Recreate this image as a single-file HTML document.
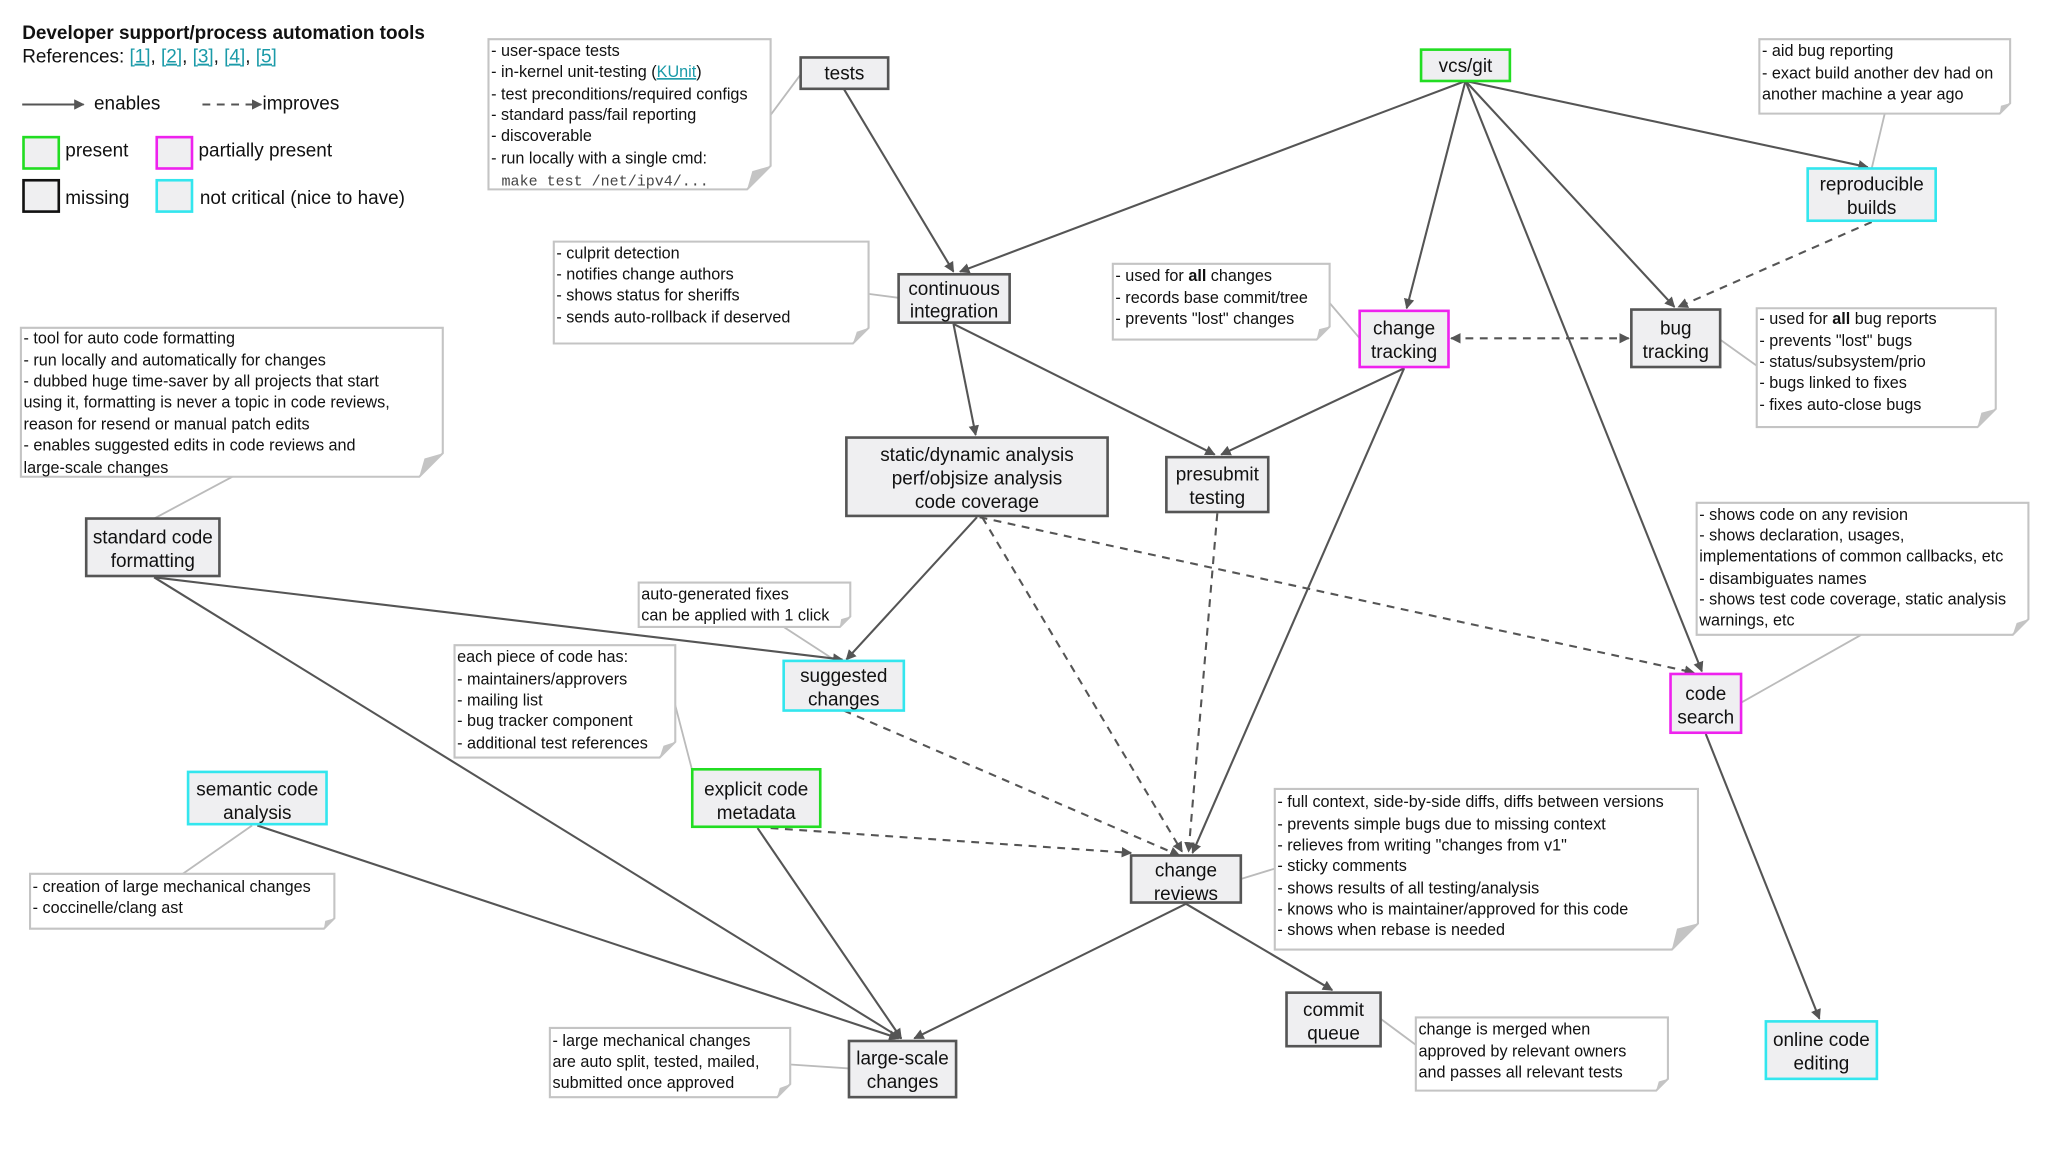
<!DOCTYPE html>
<html><head><meta charset="utf-8"><style>
html,body{margin:0;padding:0;background:#fff;}
svg{display:block;}
text{font-family:"Liberation Sans",Arial,sans-serif;fill:#111;}
.n{font-size:14.5px;text-anchor:middle;}
.t{font-size:12.4px;}
.mono{font-family:"Liberation Mono",monospace;font-size:11.5px;fill:#444;}
.lk{fill:#1a9aa8;text-decoration:underline;}
.nb{fill:#efeff1;stroke:#555;stroke-width:2;}
.g{stroke:#22dd22;} .m{stroke:#ee22ee;} .c{stroke:#33e6ee;}
.note{fill:#fff;stroke:#c4c4c4;stroke-width:1.6;}
.fold{fill:#c4c4c4;}
.e{stroke:#555;stroke-width:1.6;fill:none;}
.d{stroke:#555;stroke-width:1.6;fill:none;stroke-dasharray:6,5;}
.cn{stroke:#bbb;stroke-width:1.4;fill:none;}
</style></head><body>
<svg width="2048" height="1152" viewBox="0 0 1568 882" xmlns="http://www.w3.org/2000/svg">
<defs>
<marker id="a" viewBox="0 0 10 10" refX="9" refY="5" markerWidth="8" markerHeight="8" markerUnits="userSpaceOnUse" orient="auto-start-reverse"><path d="M0,0L10,5L0,10z" fill="#555"/></marker>
<marker id="ab" viewBox="0 0 10 10" refX="9" refY="5" markerWidth="10" markerHeight="10" markerUnits="userSpaceOnUse" orient="auto-start-reverse"><path d="M0,0L10,5L0,10z" fill="#555"/></marker>
</defs>
<rect width="1568" height="882" fill="#fff"/>

<!-- legend -->
<text x="17" y="30" style="font-size:14.5px;font-weight:bold">Developer support/process automation tools</text>
<text x="17" y="48" style="font-size:14.5px">References: <tspan class="lk">[1]</tspan>, <tspan class="lk">[2]</tspan>, <tspan class="lk">[3]</tspan>, <tspan class="lk">[4]</tspan>, <tspan class="lk">[5]</tspan></text>
<line x1="17" y1="80" x2="64" y2="80" class="e" marker-end="url(#a)"/>
<text x="72" y="84" style="font-size:14.5px">enables</text>
<line x1="155" y1="80" x2="200" y2="80" class="d" marker-end="url(#a)"/>
<text x="201" y="84" style="font-size:14.5px">improves</text>
<rect x="18" y="105" width="27" height="24" class="nb g"/><text x="50" y="120" style="font-size:14.5px">present</text>
<rect x="120" y="105" width="27" height="24" class="nb m"/><text x="152" y="120" style="font-size:14.5px">partially present</text>
<rect x="18" y="138" width="27" height="24" class="nb" style="stroke:#111"/><text x="50" y="156" style="font-size:14.5px">missing</text>
<rect x="120" y="138" width="27" height="24" class="nb c"/><text x="153" y="156" style="font-size:14.5px">not critical (nice to have)</text>

<!-- note connectors -->
<path class="cn" d="M590,88L613,57 M665,225L688,228 M178,365L118,397 M1018,232L1041,259 M1443,87L1433,129 M1345,280L1317,260 M600,480L640,506 M517,540L530,590 M1425,486L1333,538 M140,669L193,632 M976,665L950,673 M605,815L650,818 M1084,800L1057,780"/>

<!-- solid edges -->
<g class="e" marker-end="url(#a)">
<line x1="646" y1="68" x2="730" y2="208"/>
<line x1="1122" y1="62" x2="735" y2="208"/>
<line x1="1122" y1="62" x2="1077" y2="236"/>
<line x1="1122" y1="62" x2="1282" y2="235"/>
<line x1="1122" y1="62" x2="1430" y2="128"/>
<line x1="1122" y1="62" x2="1303" y2="514"/>
<line x1="730" y1="248" x2="747" y2="333"/>
<line x1="730" y1="248" x2="930" y2="348"/>
<line x1="1075" y1="282" x2="935" y2="348"/>
<line x1="1075" y1="282" x2="913" y2="653"/>
<line x1="748" y1="396" x2="648" y2="505"/>
<line x1="118" y1="442" x2="690" y2="795"/>
<line x1="118" y1="442" x2="645" y2="505"/>
<line x1="197" y1="632" x2="688" y2="795"/>
<line x1="580" y1="634" x2="690" y2="795"/>
<line x1="908" y1="692" x2="700" y2="795"/>
<line x1="908" y1="692" x2="1020" y2="758"/>
<line x1="1306" y1="562" x2="1393" y2="780"/>
</g>
<!-- dashed edges -->
<g class="d" marker-end="url(#a)">
<line x1="1433" y1="170" x2="1285" y2="235"/>
<line x1="1111" y1="259" x2="1247" y2="259" marker-start="url(#a)"/>
<line x1="750" y1="396" x2="1297" y2="515"/>
<line x1="752" y1="396" x2="905" y2="652"/>
<line x1="932" y1="393" x2="910" y2="652"/>
<line x1="646" y1="544" x2="903" y2="655"/>
<line x1="590" y1="634" x2="866" y2="653"/>
</g>

<!-- nodes -->
<rect x="613" y="44" width="67" height="24" class="nb"/><text class="n" x="646.5" y="61">tests</text>
<rect x="1088" y="38" width="68" height="24" class="nb g"/><text class="n" x="1122" y="55">vcs/git</text>
<rect x="1384" y="129" width="98" height="40" class="nb c"/><text class="n" x="1433" y="146">reproducible</text><text class="n" x="1433" y="164">builds</text>
<rect x="688" y="210" width="85" height="37" class="nb"/><text class="n" x="730.5" y="226">continuous</text><text class="n" x="730.5" y="243">integration</text>
<rect x="1041" y="238" width="68" height="43" class="nb m"/><text class="n" x="1075" y="256">change</text><text class="n" x="1075" y="274">tracking</text>
<rect x="1249" y="237" width="68" height="44" class="nb"/><text class="n" x="1283" y="256">bug</text><text class="n" x="1283" y="274">tracking</text>
<rect x="648" y="335" width="200" height="60" class="nb"/><text class="n" x="748" y="353">static/dynamic analysis</text><text class="n" x="748" y="371">perf/objsize analysis</text><text class="n" x="748" y="389">code coverage</text>
<rect x="893" y="350" width="78" height="42" class="nb"/><text class="n" x="932" y="368">presubmit</text><text class="n" x="932" y="386">testing</text>
<rect x="66" y="397" width="102" height="44" class="nb"/><text class="n" x="117" y="416">standard code</text><text class="n" x="117" y="434">formatting</text>
<rect x="600" y="506" width="92" height="38" class="nb c"/><text class="n" x="646" y="522">suggested</text><text class="n" x="646" y="540">changes</text>
<rect x="1279" y="516" width="54" height="45" class="nb m"/><text class="n" x="1306" y="536">code</text><text class="n" x="1306" y="554">search</text>
<rect x="144" y="591" width="106" height="40" class="nb c"/><text class="n" x="197" y="609">semantic code</text><text class="n" x="197" y="627">analysis</text>
<rect x="530" y="589" width="98" height="44" class="nb g"/><text class="n" x="579" y="609">explicit code</text><text class="n" x="579" y="627">metadata</text>
<rect x="866" y="655" width="84" height="36" class="nb"/><text class="n" x="908" y="671">change</text><text class="n" x="908" y="689">reviews</text>
<rect x="985" y="760" width="72" height="41" class="nb"/><text class="n" x="1021" y="778">commit</text><text class="n" x="1021" y="796">queue</text>
<rect x="650" y="797" width="82" height="43" class="nb"/><text class="n" x="691" y="815">large-scale</text><text class="n" x="691" y="833">changes</text>
<rect x="1352" y="782" width="85" height="44" class="nb c"/><text class="n" x="1394.5" y="801">online code</text><text class="n" x="1394.5" y="819">editing</text>

<!-- notes -->
<g>
<path class="note" d="M374,30H590V127L572,145H374Z"/><path class="fold" d="M590,127L572,145L576,131Z"/>
<text class="t" x="376" y="43">- user-space tests</text>
<text class="t" x="376" y="59">- in-kernel unit-testing (<tspan class="lk">KUnit</tspan>)</text>
<text class="t" x="376" y="76">- test preconditions/required configs</text>
<text class="t" x="376" y="92">- standard pass/fail reporting</text>
<text class="t" x="376" y="108">- discoverable</text>
<text class="t" x="376" y="125">- run locally with a single cmd:</text>
<text class="mono" x="384" y="142">make test /net/ipv4/...</text>

<path class="note" d="M424,185H665V251L653,263H424Z"/><path class="fold" d="M665,251L653,263L656,254Z"/>
<text class="t" x="426" y="198">- culprit detection</text>
<text class="t" x="426" y="214">- notifies change authors</text>
<text class="t" x="426" y="230">- shows status for sheriffs</text>
<text class="t" x="426" y="247">- sends auto-rollback if deserved</text>

<path class="note" d="M16,251H339V347L321,365H16Z"/><path class="fold" d="M339,347L321,365L325,351Z"/>
<text class="t" x="18" y="263">- tool for auto code formatting</text>
<text class="t" x="18" y="280">- run locally and automatically for changes</text>
<text class="t" x="18" y="296">- dubbed huge time-saver by all projects that start</text>
<text class="t" x="18" y="312">using it, formatting is never a topic in code reviews,</text>
<text class="t" x="18" y="329">reason for resend or manual patch edits</text>
<text class="t" x="18" y="345">- enables suggested edits in code reviews and</text>
<text class="t" x="18" y="362">large-scale changes</text>

<path class="note" d="M852,202H1018V250L1008,260H852Z"/><path class="fold" d="M1018,250L1008,260L1010,252Z"/>
<text class="t" x="854" y="215">- used for <tspan style="font-weight:bold">all</tspan> changes</text>
<text class="t" x="854" y="232">- records base commit/tree</text>
<text class="t" x="854" y="248">- prevents "lost" changes</text>

<path class="note" d="M1347,30H1539V79L1531,87H1347Z"/><path class="fold" d="M1539,79L1531,87L1532,81Z"/>
<text class="t" x="1349" y="43">- aid bug reporting</text>
<text class="t" x="1349" y="60">- exact build another dev had on</text>
<text class="t" x="1349" y="76">another machine a year ago</text>

<path class="note" d="M1345,236H1528V313L1514,327H1345Z"/><path class="fold" d="M1528,313L1514,327L1517,316Z"/>
<text class="t" x="1347" y="248">- used for <tspan style="font-weight:bold">all</tspan> bug reports</text>
<text class="t" x="1347" y="265">- prevents "lost" bugs</text>
<text class="t" x="1347" y="281">- status/subsystem/prio</text>
<text class="t" x="1347" y="297">- bugs linked to fixes</text>
<text class="t" x="1347" y="314">- fixes auto-close bugs</text>

<path class="note" d="M489,446H651V472L643,480H489Z"/><path class="fold" d="M651,472L643,480L644,474Z"/>
<text class="t" x="491" y="459">auto-generated fixes</text>
<text class="t" x="491" y="475">can be applied with 1 click</text>

<path class="note" d="M348,494H517V568L505,580H348Z"/><path class="fold" d="M517,568L505,580L508,571Z"/>
<text class="t" x="350" y="507">each piece of code has:</text>
<text class="t" x="350" y="524">- maintainers/approvers</text>
<text class="t" x="350" y="540">- mailing list</text>
<text class="t" x="350" y="556">- bug tracker component</text>
<text class="t" x="350" y="573">- additional test references</text>

<path class="note" d="M1299,385H1553V474L1541,486H1299Z"/><path class="fold" d="M1553,474L1541,486L1544,477Z"/>
<text class="t" x="1301" y="398">- shows code on any revision</text>
<text class="t" x="1301" y="414">- shows declaration, usages,</text>
<text class="t" x="1301" y="430">implementations of common callbacks, etc</text>
<text class="t" x="1301" y="447">- disambiguates names</text>
<text class="t" x="1301" y="463">- shows test code coverage, static analysis</text>
<text class="t" x="1301" y="479">warnings, etc</text>

<path class="note" d="M23,669H256V703L248,711H23Z"/><path class="fold" d="M256,703L248,711L249,705Z"/>
<text class="t" x="25" y="683">- creation of large mechanical changes</text>
<text class="t" x="25" y="699">- coccinelle/clang ast</text>

<path class="note" d="M976,604H1300V707L1280,727H976Z"/><path class="fold" d="M1300,707L1280,727L1284,711Z"/>
<text class="t" x="978" y="618">- full context, side-by-side diffs, diffs between versions</text>
<text class="t" x="978" y="635">- prevents simple bugs due to missing context</text>
<text class="t" x="978" y="651">- relieves from writing "changes from v1"</text>
<text class="t" x="978" y="667">- sticky comments</text>
<text class="t" x="978" y="684">- shows results of all testing/analysis</text>
<text class="t" x="978" y="700">- knows who is maintainer/approved for this code</text>
<text class="t" x="978" y="716">- shows when rebase is needed</text>

<path class="note" d="M421,787H605V830L595,840H421Z"/><path class="fold" d="M605,830L595,840L597,833Z"/>
<text class="t" x="423" y="801">- large mechanical changes</text>
<text class="t" x="423" y="817">are auto split, tested, mailed,</text>
<text class="t" x="423" y="833">submitted once approved</text>

<path class="note" d="M1084,779H1277V826L1268,835H1084Z"/><path class="fold" d="M1277,826L1268,835L1270,828Z"/>
<text class="t" x="1086" y="792">change is merged when</text>
<text class="t" x="1086" y="809">approved by relevant owners</text>
<text class="t" x="1086" y="825">and passes all relevant tests</text>
</g>
</svg>
</body></html>
